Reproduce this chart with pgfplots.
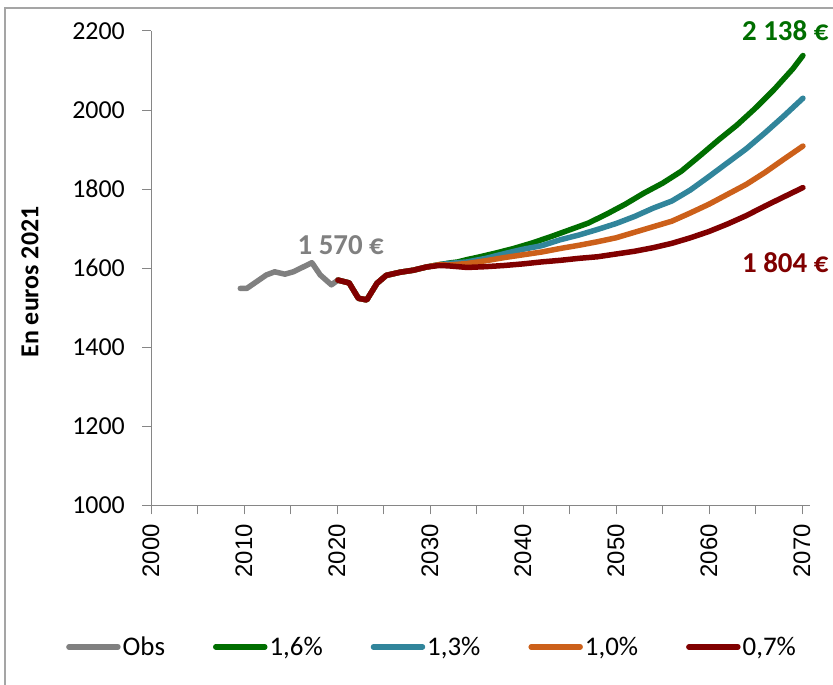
\documentclass[border=0pt]{standalone}
\usepackage{fontspec}
\setmainfont{Carlito}
\newfontfamily\arialfont{Liberation Sans}
\usepackage{pgfplots}
\pgfplotsset{compat=1.18}
\definecolor{obsgray}{RGB}{128,128,128}
\definecolor{cgreen}{RGB}{0,110,0}
\definecolor{cblue}{RGB}{49,133,155}
\definecolor{corange}{RGB}{204,96,26}
\definecolor{cred}{RGB}{128,0,0}
\definecolor{axgray}{RGB}{134,134,134}
\definecolor{framegray}{RGB}{165,165,165}
\begin{document}
\begin{tikzpicture}
\useasboundingbox (0bp,0bp) rectangle (833bp,685bp);
\draw[framegray, line width=1.2bp] (5bp,0bp) -- (5bp,677bp) -- (833bp,677bp);
\node[rotate=90, font=\fontsize{26}{30}\selectfont\bfseries] at (30bp,403bp) {En euros 2021};
\begin{axis}[
  at={(151bp,179.5bp)}, anchor=south west,
  scale only axis, width=659bp, height=474.5bp,
  xmin=2000, xmax=2070.86, ymin=1000, ymax=2200,
  axis lines*=left,
  axis line style={-, axgray, line width=1bp},
  clip=false,
  xtick={2000,2010,...,2070},
  minor xtick={2005,2015,...,2065},
  ytick={1000,1200,...,2200},
  tick align=outside,
  major tick length=9bp, minor tick length=9bp,
  tick style={axgray, line width=1bp},
  minor tick style={axgray, line width=1bp},
  /pgf/number format/1000 sep={},
  /pgf/number format/assume math mode=true,
  xticklabel style={rotate=90, anchor=east, inner sep=0pt, font=\arialfont\fontsize{24}{28}\selectfont},
  yticklabel style={inner sep=0pt, font=\fontsize{26}{30}\selectfont},
  xticklabel shift=9.5bp,
  yticklabel shift=17bp,
  legend style={at={(-0.129,-0.298)}, anchor=west, draw=none, fill=none, inner sep=0pt,
    font=\fontsize{27}{31}\selectfont, legend columns=5,
    nodes={inner sep=2bp},
    /tikz/every even column/.append style={column sep=46bp}},
  legend image code/.code={\draw[#1, line cap=round] (3bp,0bp) -- (52bp,0bp);},
  every axis plot/.append style={line width=5.5bp, line join=round, line cap=round},
]
\addplot[obsgray] coordinates {(2009.6,1549) (2010.3,1549) (2012.4,1583) (2013.3,1591) (2014.4,1585) (2015.3,1591) (2017.3,1614) (2018.2,1583) (2019.4,1558) (2020.1,1570)};
\addlegendentry{Obs}
\addplot[cgreen] coordinates {(2020.1,1570) (2021.3,1563) (2022.3,1524) (2023.2,1520) (2024.3,1562) (2025.3,1582) (2026.8,1590) (2028.2,1595) (2029.6,1603) (2031,1609)
 (2032,1613) (2033,1616) (2034,1622) (2035,1627) (2037,1638) (2039,1650) (2041,1664) (2043,1680) (2045,1697) (2047,1714) (2049,1737) (2051,1762) (2053,1790) (2055,1815) (2057,1845) (2059,1884) (2061,1924) (2063,1962) (2065,2005) (2067,2052) (2069,2104) (2070.1,2138)};
\addlegendentry{1,6\%}
\addplot[cblue] coordinates {(2020.1,1570) (2021.3,1563) (2022.3,1524) (2023.2,1520) (2024.3,1562) (2025.3,1582) (2026.8,1590) (2028.2,1595) (2029.6,1603) (2031,1609)
 (2032,1612) (2034,1616) (2036,1625) (2038,1637) (2040,1648) (2042,1657) (2044,1672) (2046,1684) (2048,1698) (2050,1713) (2052,1731) (2054,1752) (2056,1770) (2058,1798) (2060,1832) (2062,1867) (2064,1902) (2066,1942) (2068,1984) (2070.1,2030)};
\addlegendentry{1,3\%}
\addplot[corange] coordinates {(2020.1,1570) (2021.3,1563) (2022.3,1524) (2023.2,1520) (2024.3,1562) (2025.3,1582) (2026.8,1590) (2028.2,1595) (2029.6,1603) (2031,1609)
 (2032,1608) (2034,1612) (2036,1619) (2038,1627) (2040,1634) (2042,1641) (2044,1650) (2046,1658) (2048,1667) (2050,1677) (2052,1691) (2054,1705) (2056,1719) (2058,1740) (2060,1762) (2062,1787) (2064,1812) (2066,1842) (2068,1875) (2070.1,1909)};
\addlegendentry{1,0\%}
\addplot[cred] coordinates {(2020.1,1570) (2021.3,1563) (2022.3,1524) (2023.2,1520) (2024.3,1562) (2025.3,1582) (2026.8,1590) (2028.2,1595) (2029.6,1603) (2031,1607)
 (2032,1606) (2034,1602) (2036,1604) (2038,1607) (2040,1611) (2042,1616) (2044,1620) (2046,1625) (2048,1629) (2050,1636) (2052,1643) (2054,1652) (2056,1663) (2058,1677) (2060,1693) (2062,1712) (2064,1733) (2066,1757) (2068,1780) (2070.1,1804)};
\addlegendentry{0,7\%}
\node[font=\fontsize{29}{33}\selectfont\bfseries, text=obsgray] at (axis cs:2020.4,1659) {1 570 €};
\node[font=\fontsize{29}{33}\selectfont\bfseries, text=cgreen] at (axis cs:2068.2,2200) {2 138 €};
\node[font=\fontsize{29}{33}\selectfont\bfseries, text=cred] at (axis cs:2068.2,1614.6) {1 804 €};
\end{axis}
\end{tikzpicture}
\end{document}
